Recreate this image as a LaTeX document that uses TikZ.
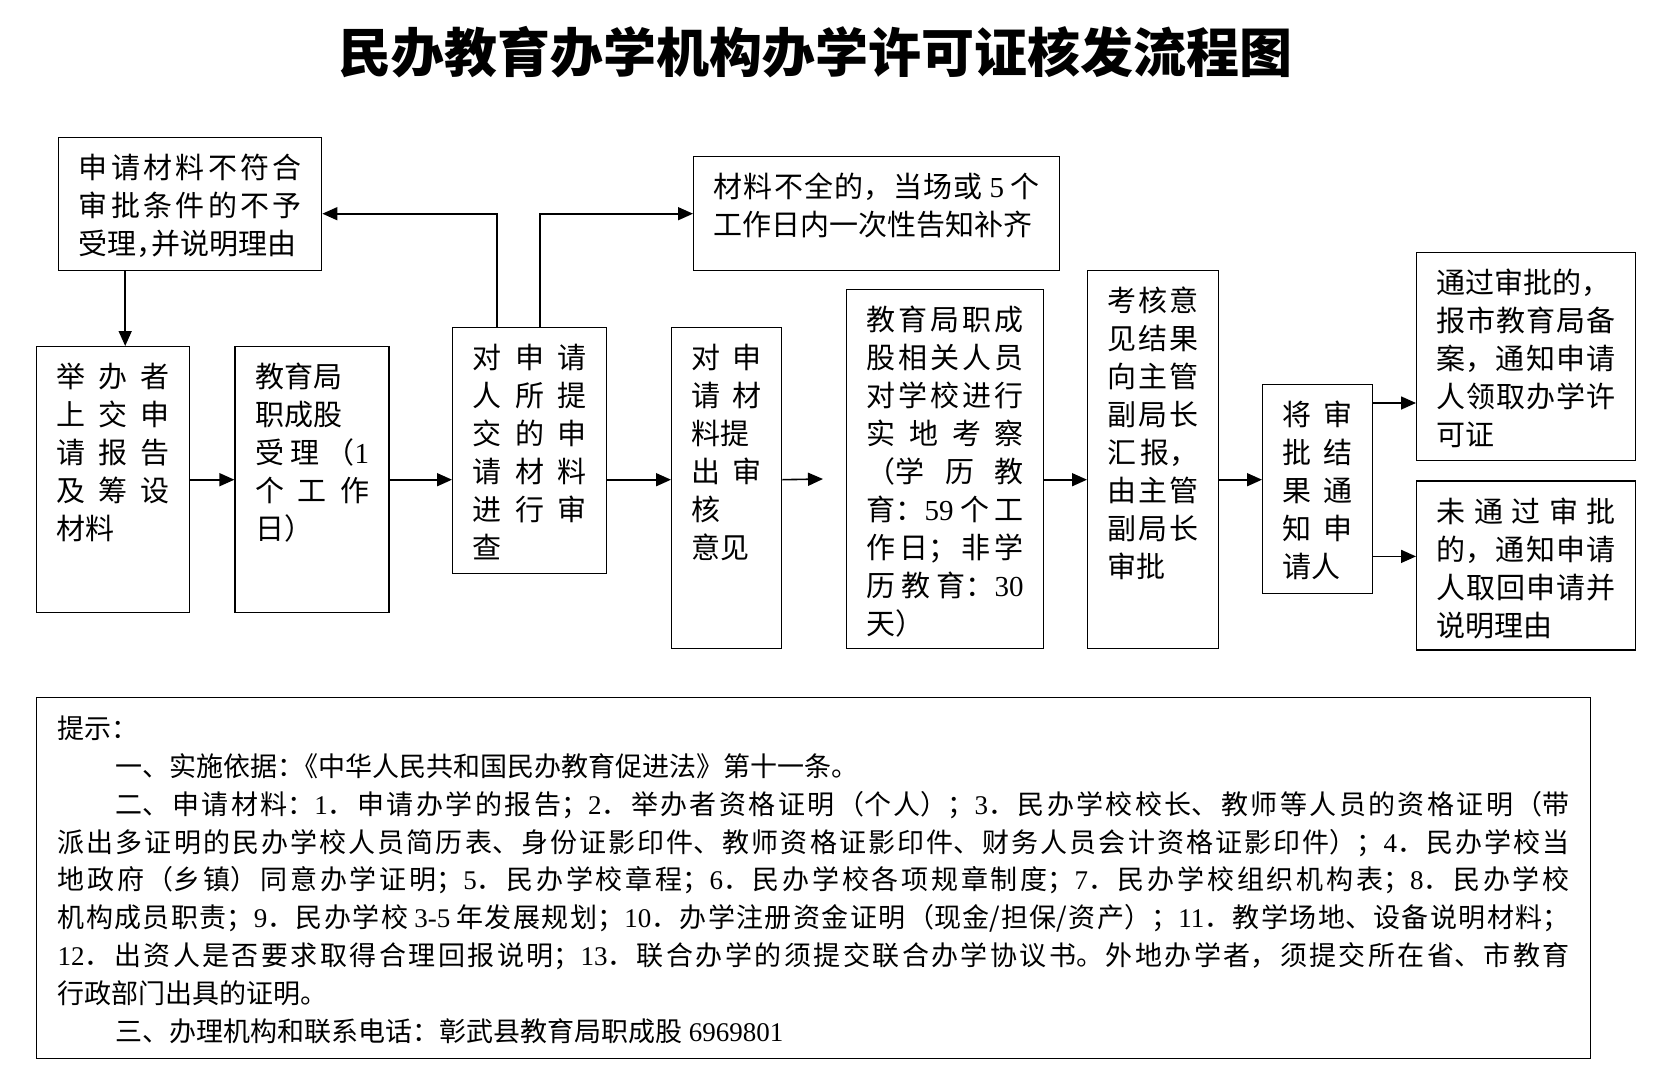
\documentclass[tikz,border=0pt]{standalone}
\usepackage{fontspec}
\setmainfont{Noto Sans CJK SC}
\newfontfamily\lat{Liberation Serif}
\usetikzlibrary{positioning,arrows.meta}
\XeTeXlinebreaklocale "zh"
\XeTeXlinebreakskip=0pt plus 20pt
\tolerance=10000
\hbadness=10000
\setlength\parindent{0pt}
\newcommand\dg[1]{{\lat #1}}
\tikzset{
  box/.style    = {draw, line width=1.4pt, anchor=north west, align=justify,
                   inner xsep=20pt, inner ysep=0pt, text height=41pt,
                   font=\fontsize{29pt}{38pt}\selectfont},
  tipbox/.style = {box, inner xsep=21pt, font=\fontsize{27pt}{37.8pt}\selectfont},
  arr/.style    = {-{Triangle[length=15pt,width=13pt]}, line width=1.6pt},
  ttl/.style    = {font=\fontsize{53pt}{60pt}\selectfont\bfseries},
}

\begin{document}
\begin{tikzpicture}[x=1pt, y=-1pt]
  \fill[white] (0,0) rectangle (1669,1089);
  \node[ttl] (title) at (815,52) {民办教育办学机构办学许可证核发流程图};

  % --- main flow ---
  \node[box, text width=113pt, text depth=225pt] (apply) at (36,346)
    {举办者\linebreak 上交申\linebreak 请报告\linebreak 及筹设\linebreak 材料};
  \node[box, text width=114pt, text depth=225pt, right=44pt of apply.north east, anchor=north west] (accept)
    {教育局\\职成股\\受理（\dg{1}\linebreak 个工作\linebreak 日）};
  \node[box, text width=114pt, text depth=205pt] (review) at (452,327)
    {对申请\linebreak 人所提\linebreak 交的申\linebreak 请材料\linebreak 进行审\linebreak 查};
  \node[box, text width=70pt, text depth=280pt] (opinion) at (671,327)
    {对申\linebreak 请材\linebreak 料提\\出审\linebreak 核\\意见};
  \node[box, text width=157pt, text depth=318pt] (inspect) at (846,289)
    {教育局职成\linebreak 股相关人员\linebreak 对学校进行\linebreak 实地考察\linebreak （学历教\linebreak 育：\dg{59} 个工\linebreak 作日；非学\linebreak 历教育：\dg{30}\linebreak 天）};
  \node[box, text width=91pt, text depth=337pt] (report) at (1087,270)
    {考核意\linebreak 见结果\linebreak 向主管\linebreak 副局长\linebreak 汇报，\linebreak 由主管\linebreak 副局长\linebreak 审批};
  \node[box, text width=70pt, text depth=168pt] (notify) at (1262,384)
    {将审\linebreak 批结\linebreak 果通\linebreak 知申\linebreak 请人};
  \node[box, text width=179pt, text depth=167pt] (pass) at (1416,252)
    {通过审批的，\\报市教育局备\linebreak 案，通知申请\linebreak 人领取办学许\linebreak 可证};
  \node[box, text width=179pt, text depth=128pt, below=19pt of pass.south west, anchor=north west] (fail)
    {未通过审批\linebreak 的，通知申请\linebreak 人取回申请并\linebreak 说明理由};

  % --- side outcomes of the check ---
  \node[box, text width=223pt, text depth=92pt] (reject) at (58,137)
    {申请材料不符合\linebreak 审批条件的不予\linebreak 受理，\kern-.5em 并说明理由};
  \node[box, text width=326pt, text depth=73pt] (incomplete) at (693,156)
    {材料不全的，当场或 \dg{5} 个\linebreak 工作日内一次性告知补齐};
  \coordinate (gap) at (823,479);

  \draw[arr] ([xshift=12pt]apply.north |- reject.south) -- ([xshift=12pt]apply.north);
  \draw[arr] (apply) -- (accept);
  \draw[arr] (accept) -- (accept -| review.west);
  \draw[arr] (accept -| review.east) -- (accept -| opinion.west);
  \draw[arr] (accept -| opinion.east) -- (gap);
  \draw[arr] (accept -| inspect.east) -- (accept -| report.west);
  \draw[arr] (accept -| report.east) -- (accept -| notify.west);
  \draw[arr] ([yshift=-19pt]notify.north east) -- ([yshift=-19pt]notify.north east -| pass.west);
  \draw[arr] ([yshift=38pt]notify.south east) -- ([yshift=38pt]notify.south east -| fail.west);
  \draw[arr] ([xshift=-33pt]review.north) |- (incomplete.west -| reject.east);
  \draw[arr] ([xshift=10pt]review.north) |- (incomplete.west);

  % --- notes ---
  \node[tipbox, text width=1512pt, text depth=320pt] (tips) at (36,697)
    {提示：\\
     \hspace*{58pt}一、实施依据：\kern-.5em《中华人民共和国民办教育促进法》第十一条。\\
     \hspace*{58pt}二、申请材料：\dg{1}．申请办学的报告；\dg{2}．举办者资格证明（个人）；\dg{3}．民办学校校长、教师等人员的资格证明（带\linebreak
     派出多证明的民办学校人员简历表、身份证影印件、教师资格证影印件、财务人员会计资格证影印件）；\dg{4}．民办学校当\linebreak
     地政府（乡镇）同意办学证明；\dg{5}．民办学校章程；\dg{6}．民办学校各项规章制度；\dg{7}．民办学校组织机构表；\dg{8}．民办学校\linebreak
     机构成员职责；\dg{9}．民办学校 \dg{3-5} 年发展规划；\dg{10}．办学注册资金证明（现金/担保/资产）；\dg{11}．教学场地、设备说明材料；\linebreak
     \dg{12}．出资人是否要求取得合理回报说明；\dg{13}．联合办学的须提交联合办学协议书。外地办学者，须提交所在省、市教育\linebreak
     行政部门出具的证明。\\
     \hspace*{58pt}三、办理机构和联系电话：彰武县教育局职成股 \dg{6969801}};
\end{tikzpicture}
\end{document}
